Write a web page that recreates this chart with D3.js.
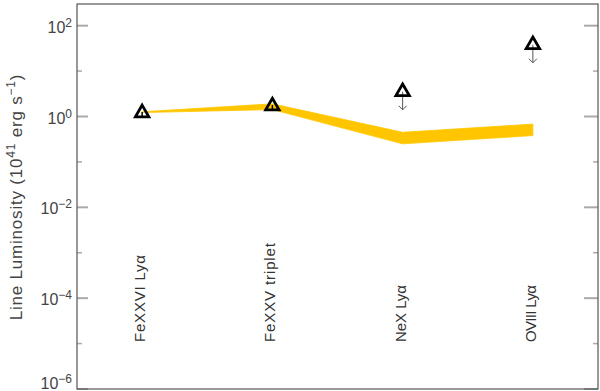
<!DOCTYPE html>
<html>
<head>
<meta charset="utf-8">
<script src="https://cdn.jsdelivr.net/npm/d3@7/dist/d3.min.js"></script>
<style>
  html, body { margin: 0; padding: 0; background: #fff; }
  svg { display: block; }
  text { font-family: "Liberation Sans", Arial, Helvetica, sans-serif; }
</style>
</head>
<body>
<svg id="chart" width="600" height="391"></svg>
<script>
// ---- data ----
const categories = ["FeXXVI Lyα", "FeXXV triplet", "NeX Lyα", "OVIII Lyα"];
const observed = [1.2, 1.7, 3.5, 38];
const isUpperLimit = [false, false, true, true];
const bandLow = [1.22, 1.42, 0.25, 0.38];
const bandHigh = [1.27, 1.9, 0.45, 0.68];
const majorTickExps = [2, 0, -2, -4, -6];
const minorTickExps = [1, -1, -3, -5];

// ---- layout ----
const svg = d3.select("#chart");
const plotLeft = 77, plotRight = 598, plotTop = 4, plotBottom = 389;
const labelLengths = [87, 99, 57, 57]; // rendered label lengths (style)

const x = d3.scaleLinear().domain([0, categories.length]).range([plotLeft, plotRight]);
const y = d3.scaleLog().domain([1e-6, 3e2]).range([plotBottom, plotTop]);
const cx = i => x(i + 0.5);

// band
const bandData = categories.map((c, i) => ({ i, lo: bandLow[i], hi: bandHigh[i] }));
const area = d3.area()
  .x(d => cx(d.i))
  .y0(d => y(d.lo))
  .y1(d => y(d.hi));
svg.append("path")
  .datum(bandData)
  .attr("d", area)
  .attr("fill", "#FFC600")
  .attr("stroke", "#FFC600")
  .attr("stroke-width", 0.8);

// ticks
const tickColor = "#aaaaaa";
const gT = svg.append("g");
majorTickExps.forEach(e => {
  const yy = y(Math.pow(10, e));
  gT.append("line").attr("x1", plotLeft).attr("x2", plotLeft + 11).attr("y1", yy).attr("y2", yy)
    .attr("stroke", tickColor).attr("stroke-width", 2);
  gT.append("line").attr("x1", plotRight - 14).attr("x2", plotRight).attr("y1", yy).attr("y2", yy)
    .attr("stroke", tickColor).attr("stroke-width", 2);
});
minorTickExps.forEach(e => {
  const yy = y(Math.pow(10, e));
  gT.append("line").attr("x1", plotLeft).attr("x2", plotLeft + 5).attr("y1", yy).attr("y2", yy)
    .attr("stroke", tickColor).attr("stroke-width", 1.5);
  gT.append("line").attr("x1", plotRight - 5).attr("x2", plotRight).attr("y1", yy).attr("y2", yy)
    .attr("stroke", tickColor).attr("stroke-width", 1.5);
});

// frame
svg.append("rect")
  .attr("x", plotLeft).attr("y", plotTop)
  .attr("width", plotRight - plotLeft).attr("height", plotBottom - plotTop)
  .attr("fill", "none").attr("stroke", "#555").attr("stroke-width", 1.2);

// tick labels
const fmtExp = e => (e < 0 ? "\u2212" + Math.abs(e) : String(e));
majorTickExps.forEach(e => {
  const yy = y(Math.pow(10, e));
  const t = svg.append("text")
    .attr("x", 72).attr("y", Math.min(yy + 7, 389))
    .attr("text-anchor", "end")
    .attr("font-size", 16).attr("fill", "#444");
  t.append("tspan").text("10");
  t.append("tspan").attr("font-size", 12).attr("dy", -6).text(fmtExp(e));
});

// y-axis title
const title = svg.append("text")
  .attr("transform", `translate(22, 197) rotate(-90)`)
  .attr("text-anchor", "middle")
  .attr("font-size", 17)
  .attr("fill", "#444")
  .attr("letter-spacing", 0.8);
title.append("tspan").text("Line Luminosity  (10");
title.append("tspan").attr("font-size", 12).attr("dy", -7).text("41");
title.append("tspan").attr("dy", 7).text("  erg  s");
title.append("tspan").attr("font-size", 12).attr("dy", -7).text("\u22121");
title.append("tspan").attr("dy", 7).text(")");

// category labels
categories.forEach((c, i) => {
  svg.append("text")
    .attr("transform", `translate(${cx(i) + 3}, 342) rotate(-90)`)
    .attr("font-size", 15)
    .attr("fill", "#333")
    .attr("textLength", labelLengths[i])
    .attr("lengthAdjust", "spacing")
    .text(c);
});

// markers
const tri = d3.symbol().type(d3.symbolTriangle).size(78);
observed.forEach((v, i) => {
  const px = cx(i), py = y(v);
  if (isUpperLimit[i]) {
    const len = 18;
    svg.append("line").attr("x1", px).attr("x2", px).attr("y1", py).attr("y2", py + len)
      .attr("stroke", "#555").attr("stroke-width", 1);
    svg.append("path")
      .attr("d", `M${px - 4},${py + len - 4}L${px},${py + len}L${px + 4},${py + len - 4}`)
      .attr("fill", "none").attr("stroke", "#555").attr("stroke-width", 1);
  }
  svg.append("path")
    .attr("d", tri())
    .attr("transform", `translate(${px},${py})`)
    .attr("fill", "none")
    .attr("stroke", "#000")
    .attr("stroke-width", 2.8)
    .attr("stroke-linejoin", "miter");
  if (!isUpperLimit[i]) {
    svg.append("line").attr("x1", px).attr("x2", px).attr("y1", py - 1).attr("y2", py + 5)
      .attr("stroke", "#000").attr("stroke-width", 1.5);
  }
});
</script>
</body>
</html>
